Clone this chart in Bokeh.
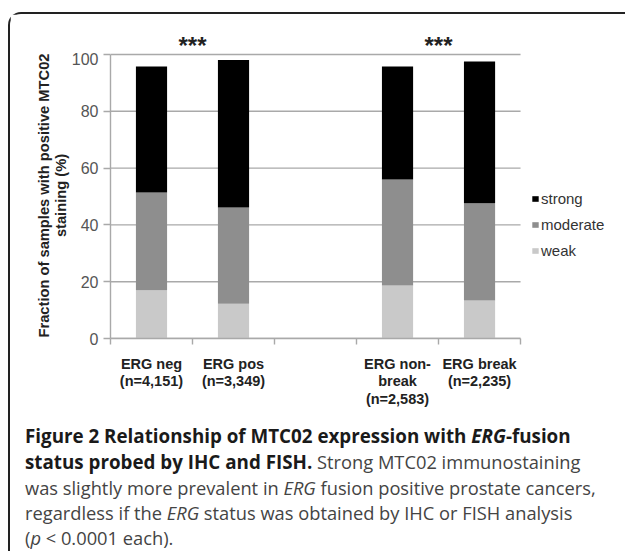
from bokeh.plotting import figure
from bokeh.models import Range1d, FixedTicker, Legend, LegendItem, Div, ColumnDataSource
from bokeh.core.properties import value
from bokeh.layouts import column
from bokeh.embed import file_html
from bokeh.resources import INLINE

# ---- data ----
categories = ["ERG neg\n(n=4,151)", "ERG pos\n(n=3,349)", "",
              "ERG non-\nbreak\n(n=2,583)", "ERG break\n(n=2,235)"]
weak = [17.0, 12.2, 0.0, 18.7, 13.4]
moderate = [34.4, 33.9, 0.0, 37.3, 34.2]
strong = [44.4, 52.0, 0.0, 39.8, 49.9]
series = ["weak", "moderate", "strong"]
series_colors = ["#c9c9c9", "#8e8e8e", "#000000"]
y_ticks = [0, 20, 40, 60, 80, 100]
sig_text = ["***", "***"]
sig_pairs = [(0, 1), (3, 4)]

FONT = "Liberation Sans"
GRID = "#a9a9a9"

n = len(categories)
xs = [i + 0.5 for i in range(n)]
src = ColumnDataSource(dict(x=xs, weak=weak, moderate=moderate, strong=strong))

# frame spans past the last category to leave room for the legend
x_range = Range1d(0, n + 1.28)

# ---- strip above the plot for the significance stars (shares the x scale) ----
ps = figure(width=615, height=38, x_range=x_range, y_range=Range1d(0, 38),
            output_backend="svg", toolbar_location=None,
            min_border_left=100, min_border_right=0, min_border_top=0,
            min_border_bottom=0)
ps.axis.visible = False
ps.grid.visible = False
ps.outline_line_color = None
ps.text(x=[(xs[a] + xs[b]) / 2 for a, b in sig_pairs], y=[7] * len(sig_pairs),
        text=sig_text, text_align="center", text_baseline="alphabetic",
        text_font=value(FONT), text_font_size="24px", text_font_style="bold",
        text_color="#222222")

# ---- main chart ----
p = figure(width=615, height=362, x_range=x_range,
           y_range=Range1d(0, 100.7), output_backend="svg", toolbar_location=None,
           min_border_left=100, min_border_right=0, min_border_top=0,
           min_border_bottom=76)
p.outline_line_color = None
p.background_fill_color = "white"
p.border_fill_color = "white"
p.xgrid.visible = False
p.ygrid.visible = False

# horizontal grid lines limited to the category area
p.segment(x0=[0] * len(y_ticks), x1=[n] * len(y_ticks), y0=y_ticks, y1=y_ticks,
          line_color=GRID, line_width=1.4, level="underlay")

rs = p.vbar_stack(series, x="x", width=0.38, color=series_colors,
                  line_color=None, source=src)

xa = p.xaxis[0]
xa.bounds = (0, n)
label_ticks = [x for x, c in zip(xs, categories) if c]
xa.ticker = FixedTicker(ticks=label_ticks, minor_ticks=list(range(n + 1)))
xa.major_label_overrides = {x: c for x, c in zip(xs, categories) if c}
xa.major_tick_line_color = None
xa.major_tick_out = 0
xa.major_tick_in = 0
xa.minor_tick_line_color = GRID
xa.minor_tick_line_width = 1.4
xa.minor_tick_out = 6
xa.minor_tick_in = 0
xa.axis_line_color = GRID
xa.axis_line_width = 1.4
xa.major_label_standoff = 11
xa.major_label_text_font = FONT
xa.major_label_text_font_size = "14.5px"
xa.major_label_text_font_style = "bold"
xa.major_label_text_color = "#222222"
xa.major_label_text_line_height = 1.1

ya = p.yaxis[0]
ya.ticker = FixedTicker(ticks=y_ticks)
ya.bounds = (0, 100)
ya.minor_tick_line_color = None
ya.major_tick_line_color = GRID
ya.major_tick_line_width = 1.4
ya.major_tick_out = 7
ya.major_tick_in = 0
ya.axis_line_color = GRID
ya.axis_line_width = 1.4
ya.major_label_standoff = 5
ya.major_label_text_font = FONT
ya.major_label_text_font_size = "16px"
ya.major_label_text_color = "#555555"
ya.axis_label = "Fraction of samples with positive MTC02\nstaining (%)"
ya.axis_label_text_font = FONT
ya.axis_label_text_font_size = "14.7px"
ya.axis_label_text_font_style = "bold"
ya.axis_label_text_color = "#222222"
ya.axis_label_text_line_height = 1.05
ya.axis_label_standoff = 0

# legend
name_to_r = dict(zip(series, rs))
legend = Legend(items=[LegendItem(label=s, renderers=[name_to_r[s]])
                       for s in ["strong", "moderate", "weak"]],
                location=(421, 78), orientation="vertical",
                glyph_width=8, glyph_height=7, label_standoff=2,
                label_text_font=FONT, label_text_font_size="15px",
                label_text_color="#333333", label_height=20, spacing=6,
                padding=0, margin=0, border_line_color=None,
                background_fill_alpha=0)
p.add_layout(legend, "center")

caption = Div(
    text=('<span style="font-weight:700;color:#1a1a1a;font-size:18.8px">Figure 2 Relationship of MTC02 expression with '
          '<i>ERG</i>-fusion<br>status probed by IHC and FISH.</span> Strong MTC02 immunostaining<br>'
          'was slightly more prevalent in <i>ERG</i> fusion positive prostate cancers,<br>'
          'regardless if the <i>ERG</i> status was obtained by IHC or FISH analysis<br>'
          '(<i>p</i>&nbsp;&lt;&nbsp;0.0001 each).'),
    width=605, height=137,
    styles={"font-family": "'Open Sans'", "font-size": "18.3px", "line-height": "25px",
            "color": "#444444", "white-space": "nowrap", "padding-left": "10px",
            "padding-top": "4px"})

layout = column(ps, p, caption, margin=(12, 0, 0, 8), spacing=0,
                styles={"border-left": "2px solid #222", "border-top": "2px solid #222",
                        "border-top-left-radius": "13px", "background": "white"})

open("out.html", "w").write(file_html(layout, INLINE))
